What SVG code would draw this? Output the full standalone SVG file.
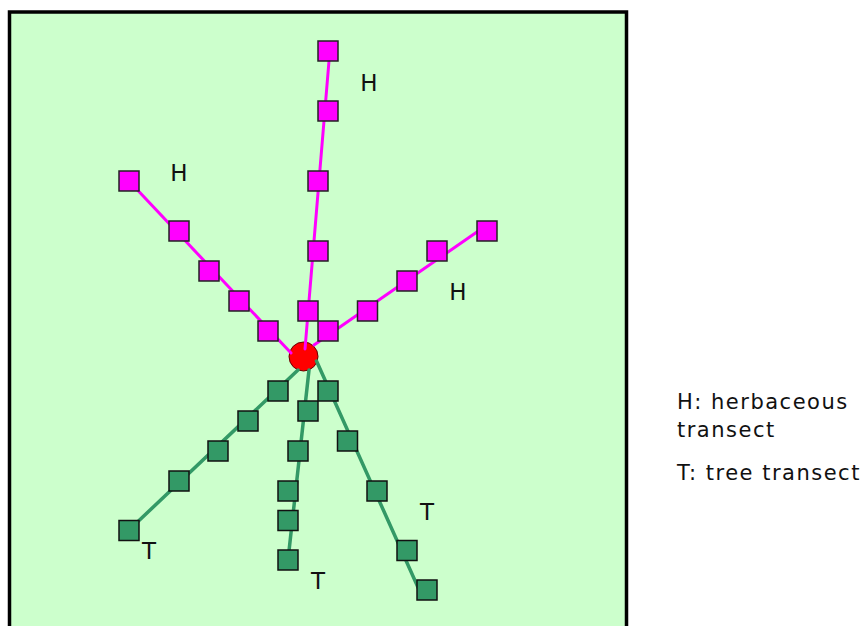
<svg xmlns="http://www.w3.org/2000/svg" width="863" height="626" viewBox="0 0 863 626">
  <style>
    .plot { fill: #ccffcc; stroke: #000; stroke-width: 3.5; }
    .herb { stroke: #ff00ff; stroke-width: 3; fill: none; stroke-linecap: round; }
    .tree { stroke: #339966; stroke-width: 3.5; fill: none; stroke-linecap: round; }
    .hq { fill: #ff00ff; stroke: #222; stroke-width: 1.5; }
    .tq { fill: #339966; stroke: #111; stroke-width: 1.5; }
    .centre { fill: #ff0000; stroke: #660000; stroke-width: 1; }
    .lbl { font-family: "DejaVu Sans", Verdana, sans-serif; font-size: 23px; fill: #111; text-anchor: middle; }
    .legend { font-family: "DejaVu Sans", Verdana, sans-serif; font-size: 21px; fill: #111; letter-spacing: 1.5px; }
  </style>

  <rect width="863" height="626" fill="#ffffff"/>
  <!-- study plot -->
  <rect class="plot" x="9.5" y="12" width="617" height="640"/>

  <!-- plot centre -->
  <g id="centre">
    <circle class="centre" cx="303.5" cy="356.5" r="14.5"/>
  </g>

  <!-- transect lines -->
  <g id="connectors">
    <line class="herb" x1="305" y1="349" x2="329.5" y2="55"/>
    <line class="herb" x1="314" y1="345" x2="487" y2="225"/>
    <line class="herb" x1="291" y1="353" x2="129" y2="181"/>
    <line class="tree" x1="298" y1="370" x2="129" y2="530"/>
    <line class="tree" x1="309" y1="370" x2="288" y2="560"/>
    <line class="tree" x1="316.5" y1="361" x2="421" y2="594"/>
  </g>

  <!-- herbaceous transect, north -->
  <g id="herb-north">
    <rect class="hq" x="318" y="41" width="20" height="20"/>
    <rect class="hq" x="318" y="101" width="20" height="20"/>
    <rect class="hq" x="308" y="171" width="20" height="20"/>
    <rect class="hq" x="308" y="241" width="20" height="20"/>
    <rect class="hq" x="298" y="301" width="20" height="20"/>
  </g>

  <!-- herbaceous transect, east -->
  <g id="herb-east">
    <rect class="hq" x="318" y="321" width="20" height="20"/>
    <rect class="hq" x="357.5" y="301" width="20" height="20"/>
    <rect class="hq" x="397" y="271" width="20" height="20"/>
    <rect class="hq" x="427" y="241" width="20" height="20"/>
    <rect class="hq" x="477" y="221" width="20" height="20"/>
  </g>

  <!-- herbaceous transect, west -->
  <g id="herb-west">
    <rect class="hq" x="119" y="171" width="20" height="20"/>
    <rect class="hq" x="169" y="221" width="20" height="20"/>
    <rect class="hq" x="199" y="261" width="20" height="20"/>
    <rect class="hq" x="229" y="291" width="20" height="20"/>
    <rect class="hq" x="258" y="321" width="20" height="20"/>
  </g>

  <!-- tree transect, south-west -->
  <g id="tree-sw">
    <rect class="tq" x="119" y="520.5" width="20" height="20"/>
    <rect class="tq" x="169" y="471" width="20" height="20"/>
    <rect class="tq" x="208" y="441" width="20" height="20"/>
    <rect class="tq" x="238" y="411" width="20" height="20"/>
    <rect class="tq" x="268" y="381" width="20" height="20"/>
  </g>

  <!-- tree transect, south -->
  <g id="tree-s">
    <rect class="tq" x="298" y="401" width="20" height="20"/>
    <rect class="tq" x="288" y="441" width="20" height="20"/>
    <rect class="tq" x="278" y="481" width="20" height="20"/>
    <rect class="tq" x="278" y="510.5" width="20" height="20"/>
    <rect class="tq" x="278" y="550" width="20" height="20"/>
  </g>

  <!-- tree transect, south-east -->
  <g id="tree-se">
    <rect class="tq" x="318" y="381" width="20" height="20"/>
    <rect class="tq" x="337.5" y="431" width="20" height="20"/>
    <rect class="tq" x="367" y="481" width="20" height="20"/>
    <rect class="tq" x="397" y="540.5" width="20" height="20"/>
    <rect class="tq" x="417" y="580" width="20" height="20"/>
  </g>

  <!-- transect labels -->
  <g id="labels">
    <text class="lbl" x="179" y="181">H</text>
    <text class="lbl" x="369" y="91">H</text>
    <text class="lbl" x="458" y="300">H</text>
    <text class="lbl" x="149" y="559">T</text>
    <text class="lbl" x="318" y="589">T</text>
    <text class="lbl" x="427" y="520">T</text>
  </g>

  <!-- key -->
  <g id="key">
    <text class="legend" x="677" y="409">H: herbaceous</text>
    <text class="legend" x="677" y="437">transect</text>
    <text class="legend" x="677" y="480">T: tree transect</text>
  </g>
</svg>
